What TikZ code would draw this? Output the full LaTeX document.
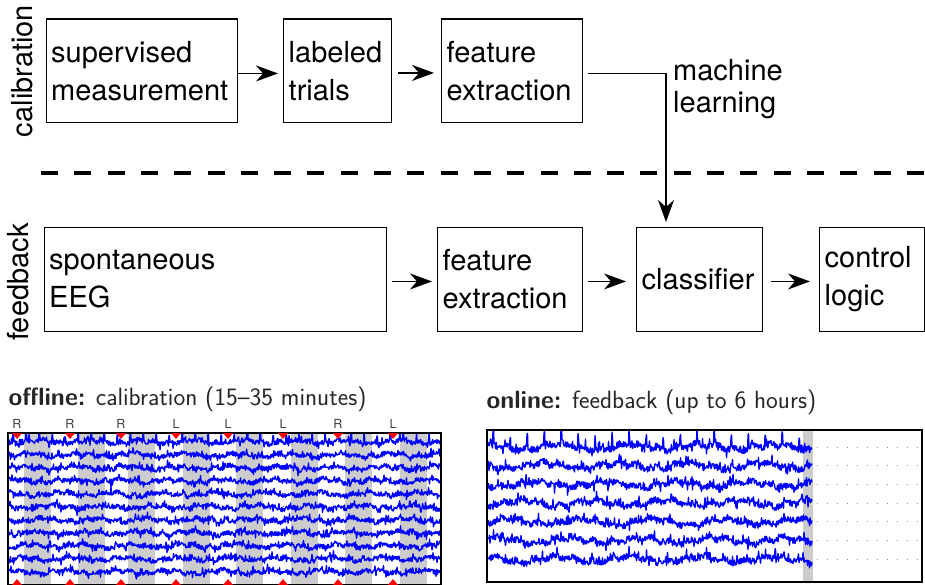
\documentclass[tikz,border=0pt]{standalone}
\usepackage{fontspec}
\setmainfont{TeX Gyre Heros}
\usetikzlibrary{arrows.meta}

\tikzset{
  blk/.style={draw, line width=1.4pt, anchor=north west, align=left,
    inner xsep=5pt, inner ysep=0pt, minimum height=103.5pt, text width=#1,
    font=\fontsize{29}{38}\selectfont},
  flow/.style={line width=1.3pt, -{Stealth[length=22pt,width=16pt,inset=7pt]}},
  sidelabel/.style={rotate=90, anchor=base, font=\fontsize{29}{34}\selectfont},
  trace/.style={blue, line width=1.35pt, line join=round},
  band/.style={fill=black!20},
  panel/.style={draw, line width=1.8pt},
  caption/.style={anchor=base west, font=\sffamily\fontsize{25}{29}\selectfont, text=black!85},
  cue/.style={anchor=base, font=\fontsize{12.5}{12.5}\selectfont, text=black!75},
  marker/.style={fill=red}
}

\begin{document}
\begin{tikzpicture}[x=1pt, y=-1pt]
\useasboundingbox (0,0) rectangle (925,585);
\pgfmathsetseed{4711}

% ---------------- calibration row ----------------
\node[blk=181.5pt] (sup) at (45.5,18.5) {supervised\\measurement};
\node[blk=98pt]    (lab) at (283,18.5)  {labeled\\trials};
\node[blk=131pt]   (fe1) at (441,18.5)  {feature\\extraction};

\draw[flow, shorten >=5pt] ([yshift=-2.5pt]sup.east) -- ([yshift=-2.5pt]lab.west);
\draw[flow, shorten <=6pt, shorten >=7pt] ([yshift=-2pt]lab.east) -- ([yshift=-2pt]fe1.west);

% ---------------- feedback row ----------------
\node[blk=332.5pt] (spo) at (43.5,227) {spontaneous\\EEG};
\node[blk=135pt]   (fe2) at (437,227)  {feature\\extraction};
\node[blk=116pt]   (cls) at (636,227)  {classifier};
\node[blk=95pt]    (ctl) at (819,227)  {control\\logic};

\draw[flow, shorten <=5pt, shorten >=5pt] ([yshift=-2pt]spo.east) -- ([yshift=-2pt]fe2.west);
\draw[flow, shorten <=5pt, shorten >=10pt] ([yshift=-2pt]fe2.east) -- ([yshift=-2pt]cls.west);
\draw[flow, shorten <=8pt, shorten >=9pt] ([yshift=-2pt]cls.east) -- ([yshift=-2pt]ctl.west);

% machine learning link from calibration to the classifier
\draw[flow, shorten <=5pt, shorten >=5pt]
  ([yshift=-2.5pt]fe1.east) -| ([xshift=30pt]cls.north west);
\node[anchor=north west, inner sep=0pt, align=left,
      font=\fontsize{29}{32}\selectfont] (ml) at (673,59) {machine\\learning};

% phase labels
\node[sidelabel] (calib) at (32,71)  {calibration};
\node[sidelabel] (feedb) at (28,282) {feedback};

% divider between the two phases
\coordinate (divL) at (41,173);
\coordinate (divR) at (925,173);
\draw[line width=4pt, dash pattern=on 17pt off 16.3pt] (divL) -- (divR);

% ---------------- offline recording ----------------
\node[caption] (offcap) at (5,405) {\textbf{offline:} calibration (15–35 minutes)};

\foreach \s in {24,78,128,183,236,291,345,400}
  \fill[band] (\s,433) rectangle (\s+27,585);

\foreach \m in {17,70,121,176,228,283,338,393}
  \draw[black!60, line width=0.8pt, dash pattern=on 0.8pt off 12.2pt] (\m,441) -- (\m,582);

\begin{scope}
  \clip (8,433) rectangle (441,585);
  \foreach \k in {0,...,10} {
    \pgfmathsetmacro\yy{442+13*\k}
    \draw[trace] plot[domain=9:440, samples=863]
      (\x, {\yy + 2.4*rand + 1.5*sin(7*\x+53*\k) + 1.1*sin(23*\x+17*\k)
            - 4.5*(rand>0.75)*abs(rand) + 4*(rand>0.85)*abs(rand)
            - 8*(\k==0)*(mod(\x,13)<0.6)});
  }
\end{scope}

\draw[panel] (8,433) rectangle (441,585);

\foreach \m/\c in {17/R,70/R,121/R,176/L,228/L,283/L,338/R,393/L} {
  \node[cue] at (\m,428) {\c};
  \fill[marker] (\m-5,433) -- (\m+5,433) -- (\m,439) -- cycle;
  \fill[marker] (\m-5,585) -- (\m+5,585) -- (\m,579) -- cycle;
}

% ---------------- online recording ----------------
\node[caption] (oncap) at (483,408) {\textbf{online:} feedback (up to 6 hours)};

\fill[band] (803,430) rectangle (813,582);

\foreach \k in {0,...,6} {
  \pgfmathsetmacro\yy{447+18.7*\k}
  \draw[black!45, line width=1pt, dash pattern=on 1pt off 9pt] (817,\yy) -- (920,\yy);
}

\begin{scope}
  \clip (487,430) rectangle (922,582);
  \foreach \k in {0,...,6} {
    \pgfmathsetmacro\yy{447+18.7*\k}
    \draw[trace] plot[domain=488:812, samples=649]
      (\x, {\yy + 3.2*rand + 2.6*sin(5*\x+61*\k) + 1.6*sin(19*\x+29*\k)
            - 6.5*(rand>0.75)*abs(rand) + 6*(rand>0.85)*abs(rand)
            - 12*(\k==0)*(mod(\x,17)<0.6)});
  }
\end{scope}

\draw[panel] (487,430) rectangle (922,582);

\end{tikzpicture}
\end{document}
